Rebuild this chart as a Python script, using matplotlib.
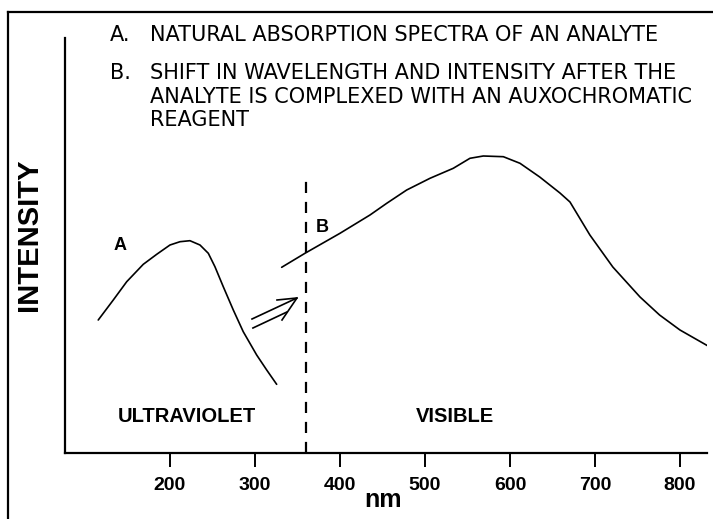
import matplotlib
matplotlib.use("Agg")
import matplotlib.pyplot as plt
from matplotlib.lines import Line2D

# ---- data (wavelength nm, relative intensity) ----
curve_a_nm = [115.6, 133.3, 149.1, 168.6, 184.4, 200.0, 211.8, 223.5, 235.3, 245.1,
              252.9, 262.7, 274.5, 286.2, 302.0, 313.8, 325.5]
curve_a_int = [133, 153, 171.3, 188.7, 198.7, 208, 211.3, 212.3, 208, 199.7,
               186.3, 166.3, 143, 121.3, 98, 83, 68.7]

curve_b_nm = [331.4, 358.8, 400.0, 435.3, 455.0, 478.5, 505.9, 533.3, 552.9, 568.6,
              592.2, 611.8, 635, 658.8, 670.6, 694, 721, 753, 776, 800, 833]
curve_b_int = [185.7, 199.7, 219.7, 238, 249.7, 263, 274.7, 284.7, 294.7, 297,
               296.3, 289.7, 276, 260, 251, 218, 186, 156, 138, 123, 107]

divider_nm = 360
divider_top = 276

xticks = [200, 300, 400, 500, 600, 700, 800]
xtick_labels = ["200", "300", "400", "500", "600", "700", "800"]

arrow_upper_x = [296.5, 349.4]
arrow_upper_y = [134, 155]
arrow_lower_x = [297.6, 337.6]
arrow_lower_y = [125, 141]
arrow_head_x = [325.9, 349.4, 331.8]
arrow_head_y = [153, 155, 133]

header_lines = [
    ("A.", "NATURAL ABSORPTION SPECTRA OF AN ANALYTE"),
    ("B.", "SHIFT IN WAVELENGTH AND INTENSITY AFTER THE"),
    ("", "ANALYTE IS COMPLEXED WITH AN AUXOCHROMATIC"),
    ("", "REAGENT"),
]

W, H = 713, 519
fig = plt.figure(figsize=(W / 100, H / 100), dpi=100)
fig.patch.set_facecolor("white")

ax_left, ax_right, ax_bottom, ax_top = 65, 707, 453, 38
ax = fig.add_axes([ax_left / W, (H - ax_bottom) / H, (ax_right - ax_left) / W, (ax_bottom - ax_top) / H])
ax.set_xlim(76.5, 831.8)
ax.set_ylim(0, ax_bottom - ax_top)

for s in ["top", "right"]:
    ax.spines[s].set_visible(False)
for s in ["left", "bottom"]:
    ax.spines[s].set_linewidth(1.6)
    ax.spines[s].set_color("black")

ax.set_yticks([])
ax.set_xticks(xticks)
ax.set_xticklabels(xtick_labels, fontsize=14, fontweight="bold", family="Liberation Sans")
ax.tick_params(axis="x", direction="out", length=10, width=1.4, pad=7)

ax.plot(curve_a_nm, curve_a_int, color="black", lw=1.2, solid_capstyle="round")
ax.plot(curve_b_nm, curve_b_int, color="black", lw=1.2, solid_capstyle="round")
ax.plot([divider_nm, divider_nm], [0, divider_top], color="black", lw=1.6, linestyle=(0, (5, 4)))

ax.plot(arrow_upper_x, arrow_upper_y, color="black", lw=1.2)
ax.plot(arrow_lower_x, arrow_lower_y, color="black", lw=1.2)
ax.plot(arrow_head_x, arrow_head_y, color="black", lw=1.2)

bold = dict(fontweight="bold", family="Liberation Sans", color="black")
ax.text(141, 208, "A", fontsize=13, ha="center", va="center", **bold)
ax.text(379, 226, "B", fontsize=13, ha="center", va="center", **bold)
ax.text(220, 31, "ULTRAVIOLET", fontsize=14.5, ha="center", va="baseline", **bold)
ax.text(535, 31, "VISIBLE", fontsize=14.5, ha="center", va="baseline", **bold)

def fx(px):
    return px / W

def fy(py):
    return 1 - py / H

fig.text(fx(383), fy(500), "nm", fontsize=18, ha="center", va="center", **bold)
fig.text(fx(29), fy(235), "INTENSITY", fontsize=21, rotation=90, ha="center", va="center", **bold)

ys = [35, 73, 97, 120]
for (lab, txt), y in zip(header_lines, ys):
    if lab:
        fig.text(fx(110), fy(y), lab, fontsize=15, ha="left", va="center", family="DejaVu Sans")
    fig.text(fx(150), fy(y), txt, fontsize=15, ha="left", va="center", family="DejaVu Sans")

fig.add_artist(Line2D([fx(8), 1.0], [fy(12), fy(12)], color="black", lw=1.6))
fig.add_artist(Line2D([fx(8), fx(8)], [fy(12), 0.0], color="black", lw=1.6))

fig.savefig("out.png", dpi=100)
